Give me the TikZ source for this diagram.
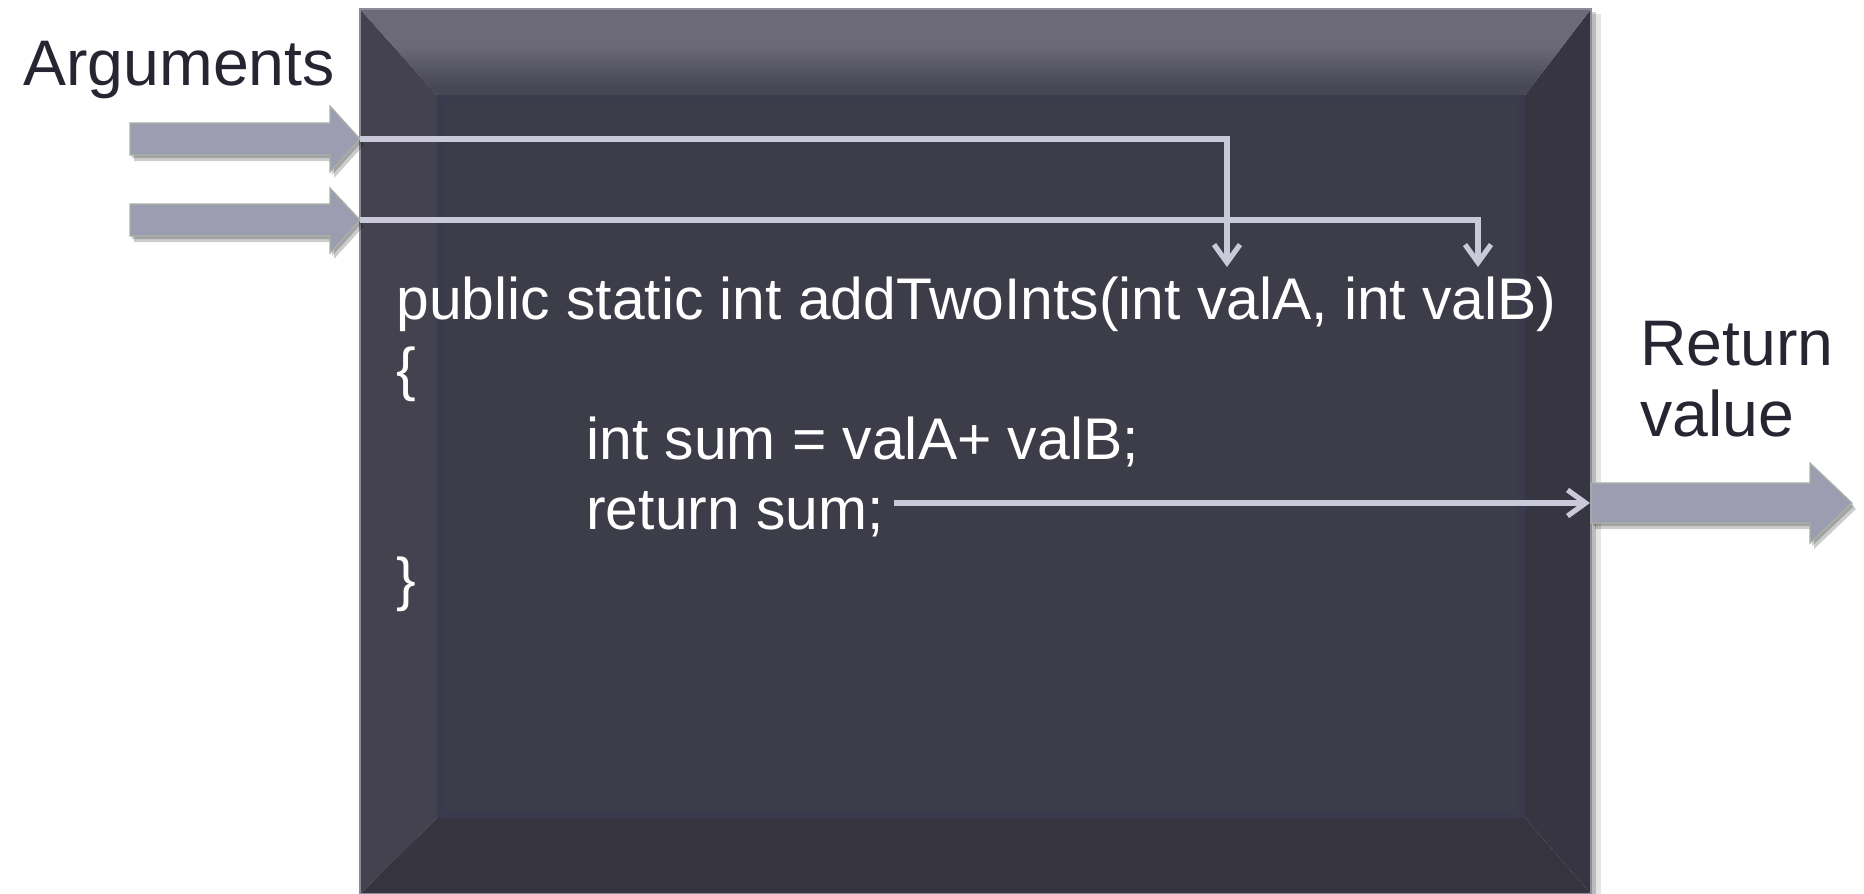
\documentclass[tikz,border=0pt]{standalone}
\usepackage{fontspec}
\setmainfont{Liberation Sans}
\usetikzlibrary{arrows.meta,calc}
\definecolor{face}{HTML}{3D3C49}
\definecolor{faceedge}{HTML}{393A4C}
\definecolor{bevL}{HTML}{43424E}
\definecolor{bevR}{HTML}{363541}
\definecolor{bevB}{HTML}{35343F}
\definecolor{bevTtop}{HTML}{6B6A76}
\definecolor{bevTbot}{HTML}{484755}
\definecolor{boxrim}{HTML}{8C8C98}
\definecolor{blockfill}{HTML}{9C9DB1}
\definecolor{blockedge}{HTML}{A9B2A6}
\definecolor{flowline}{HTML}{C9C9D9}
\definecolor{labeltext}{HTML}{262633}
\begin{document}
\begin{tikzpicture}[x=0.5pt,y=-0.5pt,
  lbltext/.style={inner sep=0pt,anchor=base west,text=labeltext,font=\fontsize{32.2}{38}\selectfont},
  codetext/.style={inner sep=0pt,anchor=base west,text=white,font=\fontsize{29.4}{35}\selectfont},
  flow/.style={draw=flowline,line width=2.6pt,-{Straight Barb[length=9pt,width=13pt]}},
  blockarrow/.style={fill=blockfill,draw=blockedge,line width=0.6pt},
  blockshadow/.style={fill=black,opacity=0.2}]
\useasboundingbox (0,0) rectangle (1864,894);
\fill[white] (0,0) rectangle (1864,894);

% ---- box shadow on the right
\fill[black,opacity=0.10] (1591,14) rectangle (1601,894);
\fill[black,opacity=0.18] (1591,12) rectangle (1596,894);

% ---- bevelled box
\coordinate (o1) at (360,9);
\coordinate (o2) at (1591,9);
\coordinate (o3) at (1591,894);
\coordinate (o4) at (360,894);
\coordinate (i1) at (437,95);
\coordinate (i2) at (1525,95);
\coordinate (i3) at (1525,818);
\coordinate (i4) at (437,818);
\fill[face] (i1) rectangle (i3);
\draw[faceedge,line width=4pt] (441,99) rectangle (1521,814);
\fill[bevL] (o1) -- (i1) -- (i4) -- (o4) -- cycle;
\fill[bevR] (o2) -- (i2) -- (i3) -- (o3) -- cycle;
\fill[bevB] (o4) -- (i4) -- (i3) -- (o3) -- cycle;
\begin{scope}
  \clip (o1) -- (o2) -- (i2) -- (i1) -- cycle;
  \fill[bevTtop] (360,9) rectangle (1591,95);
  \shade[top color=bevTtop,bottom color=bevTbot] (360,45) rectangle (1591,86);
  \fill[bevTbot] (360,86) rectangle (1591,96);
\end{scope}
\draw[boxrim,line width=0.6pt] (o1) rectangle (o3);

% ---- block arrows (shadows first)
\foreach \dx/\dy in {2/3,4/6}{
  \fill[blockshadow,shift={(\dx,\dy)}] (130,123) -- (330,123) -- (330,106) -- (360,139) -- (330,172) -- (330,155) -- (130,155) -- cycle;
  \fill[blockshadow,shift={(\dx,\dy)}] (130,204) -- (330,204) -- (330,188) -- (360,220) -- (330,253) -- (330,236) -- (130,236) -- cycle;
  \fill[blockshadow,shift={(\dx,\dy)}] (1591,483) -- (1810,483) -- (1810,463) -- (1852,503) -- (1810,543) -- (1810,523) -- (1591,523) -- cycle;
}
\draw[blockarrow] (130,123) -- (330,123) -- (330,106) -- (360,139) coordinate (argA) -- (330,172) -- (330,155) -- (130,155) -- cycle;
\draw[blockarrow] (130,204) -- (330,204) -- (330,188) -- (360,220) coordinate (argB) -- (330,253) -- (330,236) -- (130,236) -- cycle;
\draw[blockarrow] (1591,483) -- (1810,483) -- (1810,463) -- (1852,503) -- (1810,543) -- (1810,523) -- (1591,523) -- cycle;
\coordinate (retIn) at (1590,503);

% ---- texts
\node[lbltext] (args) at (23,85) {Arguments};
\node[lbltext] (ret1) at (1640,365) {Return};
\node[lbltext] (ret2) at (1640,436) {value};
\node[codetext] (sig) at (396,319) {public static int addTwoInts(int valA, int valB)};
\node[codetext] (lb) at (396,389) {\{};
\node[codetext] (body1) at (586,459) {int sum = valA+ valB;};
\node[codetext] (body2) at (586,529) {return sum;};
\node[codetext] (rb) at (396,599) {\}};

% ---- connectors
\coordinate (endA) at (1227,267);
\coordinate (endB) at (1478,267);
\coordinate (retStart) at ($(body2.base east)+(10,-26)$);
\draw[flow] (argA) -| (endA);
\draw[flow] (argB) -| (endB);
\draw[flow] (retStart) -- (retIn);
\end{tikzpicture}
\end{document}
